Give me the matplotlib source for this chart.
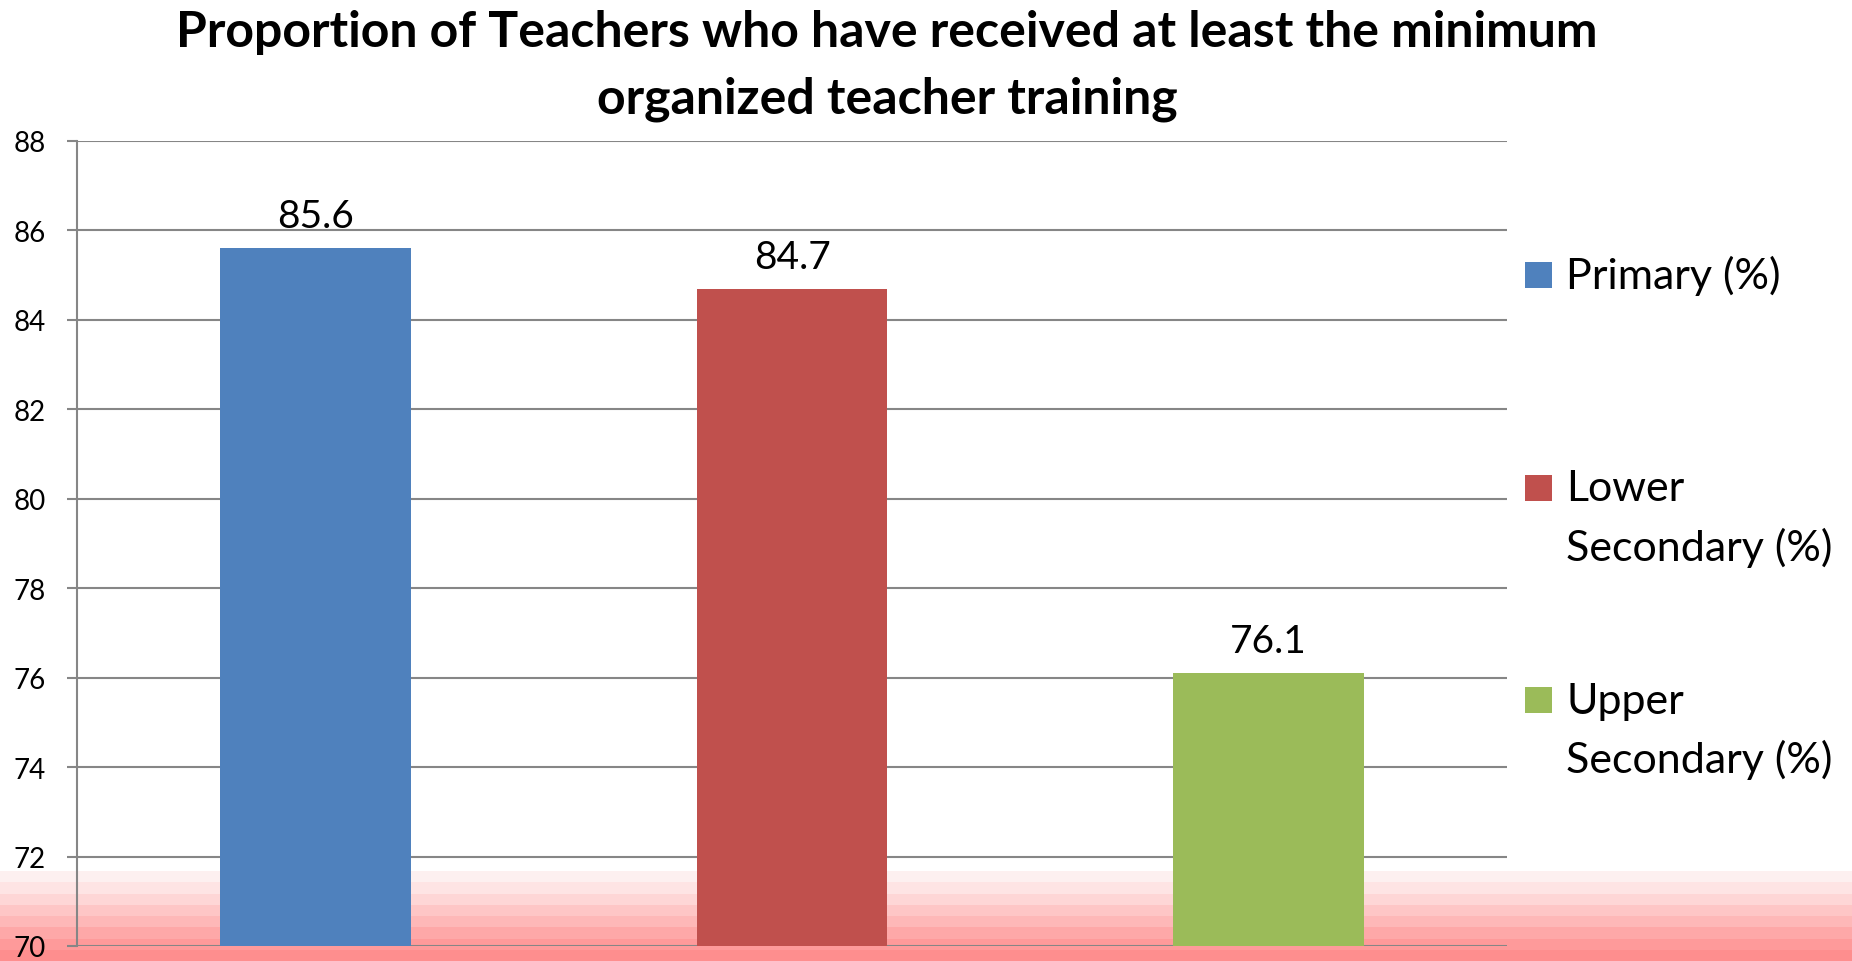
import numpy as np
import matplotlib.pyplot as plt
from matplotlib.patches import Rectangle

plt.rcParams['font.family'] = ['Lato', 'DejaVu Sans']

# data
series = ["Primary (%)", "Lower\nSecondary (%)", "Upper\nSecondary (%)"]
values = [85.6, 84.7, 76.1]
colors = ["#4f81bd", "#c0504d", "#9bbb59"]
yticks = [70, 72, 74, 76, 78, 80, 82, 84, 86, 88]
title = ["Proportion of Teachers who have received at least the minimum",
         "organized teacher training"]

W, H = 1852, 962
fig = plt.figure(figsize=(W / 100, H / 100), dpi=100)


def fy(px):
    # pixel row (from top) -> figure fraction
    return 1 - px / H


# pink band along the bottom edge of the picture
band_cols = ["#fdf0f0", "#fee4e4", "#fed6d6", "#fec6c6",
             "#feb8b8", "#fea8a8", "#fe9a9a", "#fe8e8e"]
band_top = 872
band_h = (H - band_top) / len(band_cols)
for i, c in enumerate(band_cols):
    fig.add_artist(Rectangle((0, fy(band_top + (i + 1) * band_h)), 1, band_h / H,
                             transform=fig.transFigure, facecolor=c,
                             edgecolor='none', zorder=-5))

ax = fig.add_axes([77 / W, fy(947), (1507 - 77) / W, (947 - 142) / H])
ax.set_facecolor('none')

x = np.arange(len(values))
bars = ax.bar(x, values, width=0.4, color=colors, zorder=3)
ax.bar_label(bars, labels=[f"{v:.1f}" for v in values], padding=10, fontsize=28)

ax.set_ylim(70, 88)
ax.set_xlim(-0.5, 2.5)
ax.set_yticks(yticks)
ax.set_xticks([])
ax.grid(axis='y', color='#868686', linewidth=1.5, zorder=0)
for s in ['top', 'right', 'bottom']:
    ax.spines[s].set_visible(False)
ax.spines['left'].set_color('#868686')
ax.spines['left'].set_linewidth(1.5)
ax.tick_params(axis='y', length=7.5, width=1.5, color='#868686',
               pad=15, labelsize=20)

for k, line in enumerate(title):
    fig.text(887 / W, fy(47 + k * 66), line, ha='center', va='baseline',
             fontsize=36, fontweight='bold')

# legend drawn by hand: square + label lines
for i, (lab, c) in enumerate(zip(series, colors)):
    base = 289 + i * 212.5
    fig.add_artist(Rectangle((1525 / W, fy(base)), 27 / W, 26 / H,
                             transform=fig.transFigure, facecolor=c,
                             edgecolor='none'))
    for k, line in enumerate(lab.split("\n")):
        fig.text(1566 / W, fy(base + k * 59), line, ha='left', va='baseline',
                 fontsize=31)

fig.savefig("out.png", dpi=100)
